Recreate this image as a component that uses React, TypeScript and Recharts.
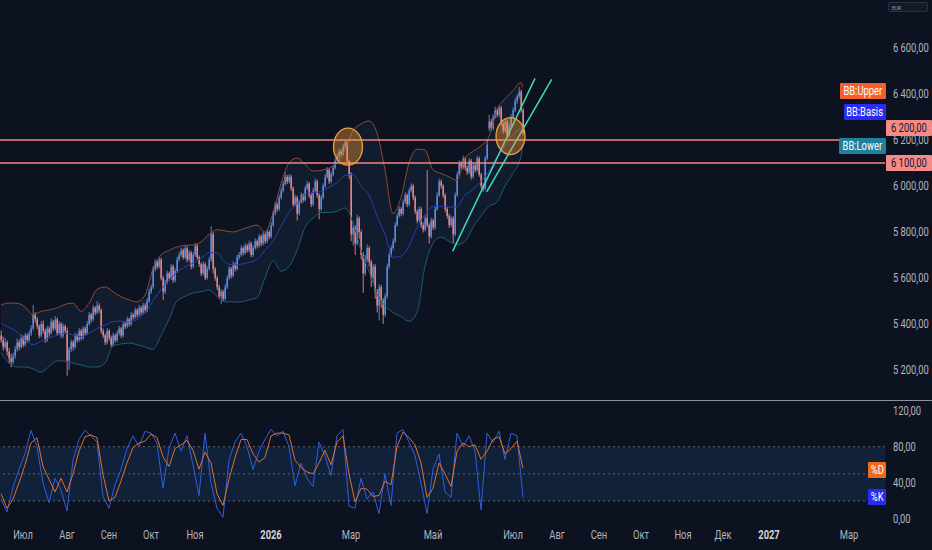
import React from 'react';
import {
  ComposedChart,
  Bar,
  Line,
  Area,
  XAxis,
  YAxis,
  ReferenceLine,
  ReferenceDot,
  ReferenceArea,
} from 'recharts';

// daily candles [open, high, low, close], one list per month
const jun25 = [
  [5350, 5372, 5318, 5330], [5330, 5345, 5285, 5300], [5300, 5338, 5290, 5320], [5320, 5328, 5262, 5280],
  [5280, 5295, 5228, 5250], [5250, 5270, 5212, 5235], [5235, 5275, 5225, 5260], [5260, 5305, 5248, 5290],
  [5290, 5338, 5280, 5320], [5320, 5332, 5285, 5300], [5300, 5355, 5292, 5340],
];
const jul25 = [
  [5340, 5350, 5298, 5310], [5310, 5362, 5302, 5350], [5350, 5358, 5318, 5330], [5330, 5372, 5322, 5360],
  [5360, 5395, 5348, 5380], [5380, 5483, 5372, 5440], [5440, 5452, 5405, 5420], [5420, 5430, 5378, 5390],
  [5390, 5398, 5338, 5350], [5350, 5412, 5342, 5400], [5400, 5415, 5358, 5370], [5370, 5380, 5318, 5330],
  [5330, 5392, 5322, 5380], [5380, 5390, 5345, 5360], [5360, 5425, 5352, 5410], [5410, 5418, 5368, 5380],
  [5380, 5435, 5372, 5420], [5420, 5428, 5348, 5360], [5360, 5412, 5352, 5400], [5400, 5408, 5338, 5350],
  [5350, 5402, 5340, 5390], [5390, 5398, 5358, 5370],
];
const aug25 = [
  [5370, 5385, 5175, 5240], [5240, 5300, 5200, 5290], [5290, 5332, 5278, 5320], [5320, 5330, 5285, 5300],
  [5300, 5362, 5292, 5350], [5350, 5358, 5318, 5330], [5330, 5382, 5322, 5370], [5370, 5378, 5328, 5340],
  [5340, 5392, 5332, 5380], [5380, 5388, 5348, 5360], [5360, 5412, 5352, 5400], [5400, 5452, 5392, 5440],
  [5440, 5448, 5405, 5420], [5420, 5482, 5412, 5470], [5470, 5478, 5438, 5450], [5450, 5500, 5442, 5480],
  [5480, 5490, 5448, 5460], [5460, 5468, 5358, 5370], [5370, 5380, 5338, 5350], [5350, 5358, 5308, 5320],
  [5320, 5382, 5312, 5370],
];
const sep25 = [
  [5370, 5378, 5328, 5340], [5340, 5350, 5298, 5310], [5310, 5362, 5302, 5350], [5350, 5358, 5318, 5330],
  [5330, 5372, 5322, 5360], [5360, 5392, 5350, 5380], [5380, 5388, 5338, 5350], [5350, 5412, 5342, 5400],
  [5400, 5410, 5378, 5390], [5390, 5432, 5382, 5420], [5420, 5428, 5388, 5400], [5400, 5452, 5392, 5440],
  [5440, 5448, 5418, 5430], [5430, 5472, 5422, 5460], [5460, 5468, 5428, 5440], [5440, 5482, 5432, 5470],
  [5470, 5478, 5438, 5450], [5450, 5492, 5442, 5480], [5480, 5490, 5448, 5460], [5460, 5512, 5452, 5500],
  [5500, 5552, 5492, 5540],
];
const oct25 = [
  [5540, 5572, 5530, 5560], [5560, 5652, 5552, 5640], [5640, 5682, 5628, 5670], [5670, 5678, 5638, 5650],
  [5650, 5692, 5642, 5680], [5680, 5688, 5590, 5600], [5600, 5610, 5505, 5540], [5540, 5592, 5530, 5580],
  [5580, 5632, 5572, 5620], [5620, 5628, 5588, 5600], [5600, 5662, 5592, 5650], [5650, 5658, 5578, 5590],
  [5590, 5642, 5582, 5630], [5630, 5692, 5622, 5680], [5680, 5712, 5672, 5700], [5700, 5732, 5692, 5720],
  [5720, 5728, 5680, 5690], [5690, 5742, 5682, 5730], [5730, 5738, 5668, 5680], [5680, 5722, 5672, 5710],
  [5710, 5718, 5638, 5650], [5650, 5712, 5642, 5700],
];
const nov25 = [
  [5700, 5752, 5692, 5740], [5740, 5748, 5680, 5690], [5690, 5698, 5648, 5660], [5660, 5668, 5608, 5620],
  [5620, 5672, 5612, 5660], [5660, 5668, 5590, 5600], [5600, 5652, 5592, 5640], [5640, 5692, 5632, 5680],
  [5680, 5825, 5670, 5790], [5790, 5800, 5620, 5640], [5640, 5648, 5588, 5600], [5600, 5610, 5548, 5560],
  [5560, 5570, 5508, 5520], [5520, 5552, 5485, 5540], [5540, 5548, 5498, 5510], [5510, 5572, 5502, 5560],
  [5560, 5612, 5552, 5600], [5600, 5652, 5592, 5640], [5640, 5648, 5598, 5610],
];
const dec25 = [
  [5610, 5672, 5602, 5660], [5660, 5668, 5628, 5640], [5640, 5702, 5632, 5690], [5690, 5712, 5680, 5700],
  [5700, 5742, 5692, 5730], [5730, 5738, 5698, 5710], [5710, 5752, 5702, 5740], [5740, 5748, 5710, 5720],
  [5720, 5762, 5712, 5750], [5750, 5758, 5690, 5700], [5700, 5742, 5692, 5730], [5730, 5772, 5722, 5760],
  [5760, 5768, 5728, 5740], [5740, 5792, 5732, 5780], [5780, 5788, 5738, 5750], [5750, 5802, 5742, 5790],
  [5790, 5798, 5748, 5760], [5760, 5812, 5752, 5800], [5800, 5808, 5768, 5780],
];
const jan26 = [
  [5780, 5842, 5772, 5830], [5830, 5892, 5822, 5880], [5880, 5932, 5872, 5920], [5920, 5928, 5888, 5900],
  [5900, 5962, 5892, 5950], [5950, 5992, 5942, 5980], [5980, 6022, 5972, 6010], [6010, 6060, 6002, 6040],
  [6040, 6048, 6008, 6020], [6020, 6052, 6012, 6040], [6040, 6048, 5978, 5990], [5990, 5998, 5910, 5920],
  [5920, 5962, 5912, 5950], [5950, 5958, 5850, 5880], [5880, 5942, 5872, 5930], [5930, 5972, 5922, 5960],
  [5960, 5968, 5928, 5940], [5940, 6002, 5932, 5990], [5990, 6022, 5982, 6010], [6010, 6018, 5948, 5960],
];
const feb26 = [
  [5960, 5968, 5908, 5920], [5920, 5992, 5912, 5980], [5980, 6032, 5972, 6020], [6020, 6028, 5948, 5960],
  [5960, 5968, 5855, 5900], [5900, 5962, 5892, 5950], [5950, 6012, 5942, 6000], [6000, 6052, 5992, 6040],
  [6040, 6082, 6032, 6070], [6070, 6078, 6008, 6020], [6020, 6062, 6012, 6050], [6050, 6092, 6042, 6080],
  [6080, 6122, 6072, 6110], [6110, 6142, 6102, 6130], [6130, 6162, 6122, 6150], [6150, 6158, 6128, 6140],
  [6140, 6182, 6132, 6170], [6170, 6200, 6162, 6190], [6190, 6195, 6100, 6110], [6110, 6115, 6030, 6050],
];
const mar26 = [
  [6050, 6060, 5760, 5790], [5790, 5845, 5740, 5820], [5820, 5830, 5700, 5750], [5750, 5875, 5742, 5860],
  [5860, 5868, 5770, 5800], [5800, 5810, 5680, 5700], [5700, 5712, 5535, 5620], [5620, 5700, 5610, 5680],
  [5680, 5745, 5668, 5730], [5730, 5740, 5650, 5670], [5670, 5680, 5560, 5600], [5600, 5662, 5580, 5650],
  [5650, 5660, 5510, 5540], [5540, 5552, 5450, 5480], [5480, 5572, 5415, 5560], [5560, 5570, 5470, 5500],
  [5500, 5512, 5400, 5440], [5440, 5532, 5430, 5520], [5520, 5662, 5510, 5650], [5650, 5712, 5640, 5700],
  [5700, 5742, 5690, 5730],
];
const apr26 = [
  [5730, 5772, 5720, 5760], [5760, 5842, 5752, 5830], [5830, 5882, 5822, 5870], [5870, 5912, 5862, 5900],
  [5900, 5908, 5868, 5880], [5880, 5942, 5872, 5930], [5930, 5972, 5922, 5960], [5960, 5968, 5908, 5920],
  [5920, 5992, 5912, 5980], [5980, 6012, 5972, 6000], [6000, 6008, 5938, 5950], [5950, 5958, 5878, 5890],
  [5890, 5898, 5838, 5850], [5850, 5912, 5842, 5900], [5900, 5908, 5818, 5830], [5830, 5842, 5798, 5810],
  [5810, 5872, 5802, 5860], [5860, 6070, 5820, 5830], [5830, 5838, 5750, 5780], [5780, 5862, 5772, 5850],
];
const may26 = [
  [5850, 5858, 5808, 5820], [5820, 5912, 5812, 5900], [5900, 5972, 5892, 5960], [5960, 6032, 5952, 6020],
  [6020, 6028, 5988, 6000], [6000, 6008, 5948, 5960], [5960, 5968, 5888, 5900], [5900, 5910, 5858, 5870],
  [5870, 5880, 5818, 5830], [5830, 5872, 5822, 5860], [5860, 5868, 5750, 5790], [5790, 5972, 5782, 5960],
  [5960, 6062, 5952, 6050], [6050, 6112, 6042, 6100], [6100, 6108, 6068, 6080], [6080, 6132, 6072, 6120],
  [6120, 6128, 6068, 6080], [6080, 6090, 6048, 6060], [6060, 6122, 6052, 6110], [6110, 6118, 6028, 6040],
];
const jun26 = [
  [6040, 6102, 6032, 6090], [6090, 6098, 6058, 6070], [6070, 6132, 6062, 6120], [6120, 6128, 6040, 6050],
  [6050, 6058, 5990, 6000], [6000, 6012, 5975, 5990], [5990, 6132, 5982, 6120], [6120, 6200, 6112, 6180],
  [6250, 6310, 6238, 6280], [6280, 6292, 6240, 6250], [6250, 6312, 6242, 6300], [6300, 6345, 6292, 6330],
  [6330, 6338, 6298, 6310], [6310, 6352, 6302, 6340], [6340, 6348, 6260, 6270], [6270, 6280, 6228, 6240],
  [6240, 6292, 6232, 6280], [6280, 6288, 6210, 6220], [6220, 6272, 6212, 6260], [6260, 6312, 6252, 6300],
];
const jul26 = [
  [6300, 6342, 6292, 6330], [6330, 6382, 6322, 6370], [6370, 6400, 6358, 6390], [6390, 6430, 6380, 6410],
  [6410, 6418, 6320, 6330], [6330, 6340, 6220, 6230],
];

const candleMonths = [jun25, jul25, aug25, sep25, oct25, nov25, dec25, jan26, feb26, mar26, apr26, may26, jun26, jul26];

// Bollinger bands, read every 4th bar
const bbUpper = [
  5483, 5491, 5490, 5474, 5440, 5455, 5461, 5470, 5485, 5491, 5455, 5490, 5550, 5561, 5540, 5518, 5505,
  5496, 5525, 5640, 5700, 5720, 5735, 5742, 5744, 5757, 5790, 5810, 5805, 5800, 5810, 5822, 5830, 5800,
  5883, 6010, 6100, 6122, 6095, 6065, 6068, 6078, 6100, 6160, 6240, 6270, 6283, 6230, 6070, 5880, 5950,
  6100, 6160, 6157, 6070, 6055, 6040, 6025, 6120, 6150, 6175, 6215, 6330, 6380, 6415, 6450, 6430,
];
const bbBasis = [
  5404, 5385, 5365, 5328, 5310, 5325, 5340, 5350, 5360, 5352, 5345, 5360, 5380, 5395, 5410, 5413, 5408,
  5420, 5450, 5500, 5550, 5590, 5625, 5648, 5665, 5685, 5710, 5710, 5668, 5657, 5660, 5668, 5680, 5720,
  5760, 5825, 5885, 5925, 5962, 5972, 5975, 5995, 6015, 6045, 6050, 6000, 5960, 5870, 5790, 5690, 5695,
  5740, 5820, 5875, 5910, 5912, 5908, 5910, 5960, 5985, 6020, 6065, 6125, 6175, 6222, 6252, 6258,
];
const bbLower = [
  5274, 5230, 5213, 5213, 5205, 5190, 5215, 5240, 5238, 5230, 5222, 5213, 5213, 5230, 5305, 5313, 5317,
  5310, 5300, 5290, 5350, 5420, 5500, 5520, 5535, 5540, 5548, 5520, 5496, 5496, 5496, 5505, 5515, 5600,
  5675, 5630, 5650, 5720, 5820, 5860, 5885, 5885, 5890, 5905, 5840, 5720, 5630, 5530, 5480, 5450, 5432,
  5412, 5450, 5650, 5750, 5778, 5760, 5745, 5760, 5820, 5870, 5912, 5930, 6000, 6055, 6130, 6180,
];

// stochastic, read every 3rd bar
const stochK = [
  22, 8, 35, 55, 72, 98, 80, 40, 18, 45, 32, 9, 65, 88, 98, 92, 85, 25, 12, 38, 55, 78, 92, 80, 97, 95,
  84, 34, 78, 95, 75, 92, 60, 26, 95, 40, 12, 2, 65, 85, 95, 80, 55, 75, 88, 99, 92, 97, 80, 37, 62, 45,
  36, 85, 70, 48, 92, 99, 14, 12, 45, 22, 30, 6, 50, 15, 95, 99, 85, 70, 40, 6, 55, 72, 30, 24, 95, 80,
  92, 75, 10, 95, 85, 97, 66, 95, 92, 24,
];
const stochD = [
  28, 12, 22, 40, 60, 84, 90, 58, 44, 30, 45, 30, 50, 75, 91, 93, 90, 49, 20, 24, 42, 62, 79, 84, 86, 94,
  90, 69, 58, 78, 82, 87, 76, 55, 74, 62, 28, 15, 44, 68, 88, 88, 72, 63, 68, 92, 95, 95, 93, 65, 57, 52,
  50, 62, 76, 60, 85, 92, 50, 19, 34, 33, 25, 26, 42, 38, 80, 96, 90, 82, 62, 24, 34, 62, 50, 36, 75, 84,
  80, 82, 66, 75, 88, 91, 72, 78, 86, 56,
];

// trading days per month on the time scale, and the labels shown
const monthBars = [11, 22, 21, 21, 22, 19, 19, 20, 20, 21, 20, 20, 20, 22, 21, 21, 21, 20, 23, 20, 20, 21];
const monthLabels = ['', 'Июл', 'Авг', 'Сен', 'Окт', 'Ноя', '', '2026', '', 'Мар', '', 'Май', '', 'Июл', 'Авг', 'Сен', 'Окт', 'Ноя', 'Дек', '2027', '', 'Мар'];

const priceTicks = [5200, 5400, 5600, 5800, 6000, 6200, 6400, 6600];
const stochTicks = [0, 40, 80, 120];
const levels = [6200, 6100];
const trendLines = [
  { x1: 225.85, y1: 5717, x2: 267, y2: 6468 },
  { x1: 242.85, y1: 5975, x2: 275.35, y2: 6464 },
];
const highlights = [
  { i: 173.5, price: 6171 },
  { i: 254.75, price: 6217 },
];

const W = 932;
const PRICE_H = 401;
const STOCH_H = 149;
const AXIS_W = 47;
const X_DOMAIN: [number, number] = [-0.5, 442];
const BG = '#0c1220';
const UP = '#5f8de6';
const DOWN = '#ef8585';
const AXIS_TEXT = '#b2b5be';
const FONT = 'Roboto, sans-serif';
const SQUEEZE = 0.78; // the reference uses a narrow face

const lastIdx = candleMonths.reduce((n, m) => n + m.length, 0) - 1;
const priceRows: any[] = candleMonths.flat().map(([o, h, l, c], i) => ({ i, o, h, l, c }));
bbUpper.forEach((u, k) => {
  const row = priceRows[Math.min(k * 4, lastIdx)];
  row.upper = u;
  row.basis = bbBasis[k];
  row.lower = bbLower[k];
});
const stochRows = stochK.map((k, n) => ({ i: n * 3, k, d: stochD[n] }));

const monthStarts: number[] = [];
monthBars.reduce((acc, n) => {
  monthStarts.push(acc);
  return acc + n;
}, 0);
const axisTicks = monthStarts
  .map((i, n) => ({ i, label: monthLabels[n] }))
  .filter((t) => t.label);

const fmtPrice = (v: number) => `${Math.floor(v / 1000)}\u00a0${String(v % 1000).padStart(3, '0')},00`;
const fmtStoch = (v: number) => `${v},00`;

const Candle = (props: any) => {
  const { x, y, width, height, payload } = props;
  if (!payload) return null;
  const { o, h, l, c } = payload;
  const top = Math.min(y, y + height);
  const bottom = Math.max(y, y + height);
  const span = h - l || 1;
  const toY = (v: number) => top + ((h - v) / span) * (bottom - top);
  const cx = x + width / 2;
  const color = c >= o ? UP : DOWN;
  const bTop = toY(Math.max(o, c));
  const bH = Math.max(toY(Math.min(o, c)) - bTop, 0.8);
  return (
    <g>
      <line x1={cx} x2={cx} y1={top} y2={bottom} stroke={color} strokeWidth={0.9} />
      <rect x={cx - 0.75} y={bTop} width={1.5} height={bH} fill={color} />
    </g>
  );
};

const ValueTick = (props: any) => {
  const { x, y, payload, fmt } = props;
  return (
    <text
      transform={`translate(${x},${y}) scale(${SQUEEZE},1)`}
      dy="0.35em"
      textAnchor="start"
      fill={AXIS_TEXT}
      fontSize={12}
      fontFamily={FONT}
    >
      {fmt(payload.value)}
    </text>
  );
};

const MonthTick = (props: any) => {
  const { x, y, payload } = props;
  const t = axisTicks.find((a) => a.i === payload.value);
  const label = t ? t.label : '';
  const isYear = /^\d{4}$/.test(label);
  return (
    <text
      transform={`translate(${x},${y + 5}) scale(${SQUEEZE},1)`}
      textAnchor="middle"
      fill={isYear ? '#d1d4dc' : AXIS_TEXT}
      fontSize={12}
      fontWeight={isYear ? 700 : 400}
      fontFamily={FONT}
    >
      {label}
    </text>
  );
};

const Tag = ({ top, left, width, text, bg, color = '#fff' }: any) => (
  <div
    style={{
      position: 'absolute',
      top,
      left,
      width,
      height: 16,
      background: bg,
      display: 'flex',
      alignItems: 'center',
      justifyContent: 'center',
      overflow: 'hidden',
      borderRadius: 1,
    }}
  >
    <span
      style={{
        display: 'inline-block',
        transform: `scaleX(${SQUEEZE})`,
        color,
        fontFamily: FONT,
        fontSize: 12,
        whiteSpace: 'nowrap',
        lineHeight: '16px',
      }}
    >
      {text}
    </span>
  </div>
);

export default function App() {
  return (
    <div style={{ position: 'absolute', top: 0, left: 0, width: W, height: 550, background: BG, overflow: 'hidden' }}>
      <div style={{ position: 'absolute', top: 0, left: 0 }}>
        <ComposedChart width={W} height={PRICE_H} data={priceRows} margin={{ top: 0, right: 0, bottom: 0, left: 0 }}>
          <XAxis dataKey="i" type="number" domain={X_DOMAIN} allowDataOverflow hide />
          <YAxis
            orientation="right"
            width={AXIS_W}
            domain={[5065, 6809]}
            allowDataOverflow
            ticks={priceTicks}
            interval={0}
            axisLine={false}
            tickLine={false}
            tick={<ValueTick fmt={fmtPrice} />}
          />
          <Area
            dataKey={(d: any) => (d.upper != null ? [d.lower, d.upper] : null)}
            type="monotone"
            connectNulls
            stroke="none"
            fill="#111c2e"
            fillOpacity={1}
            dot={false}
            activeDot={false}
            isAnimationActive={false}
          />
          <Line dataKey="upper" type="monotone" connectNulls stroke="#8a4b31" strokeWidth={1} dot={false} activeDot={false} isAnimationActive={false} />
          <Line dataKey="basis" type="monotone" connectNulls stroke="#2b3cb0" strokeWidth={1} dot={false} activeDot={false} isAnimationActive={false} />
          <Line dataKey="lower" type="monotone" connectNulls stroke="#1d5c6a" strokeWidth={1} dot={false} activeDot={false} isAnimationActive={false} />
          <Bar dataKey={(d: any) => [d.l, d.h]} shape={Candle} isAnimationActive={false} />
          {levels.map((v) => (
            <ReferenceLine key={v} y={v} stroke="#f4857e" strokeWidth={1.6} />
          ))}
          {trendLines.map((t, n) => (
            <ReferenceLine
              key={n}
              segment={[{ x: t.x1, y: t.y1 }, { x: t.x2, y: t.y2 }]}
              stroke="#3fdcbc"
              strokeWidth={1.5}
            />
          ))}
          {highlights.map((h, n) => (
            <ReferenceDot
              key={n}
              x={h.i}
              y={h.price}
              r={15}
              shape={(p: any) => (
                <ellipse cx={p.cx} cy={p.cy} rx={14.5} ry={18.5} fill="#f59a32" fillOpacity={0.4} stroke="#f0a040" strokeWidth={1.3} />
              )}
            />
          ))}
        </ComposedChart>
      </div>

      <div style={{ position: 'absolute', top: 400, left: 0, width: W, height: 1, background: '#8e9199' }} />

      <div style={{ position: 'absolute', top: 401, left: 0 }}>
        <ComposedChart width={W} height={STOCH_H} data={stochRows} margin={{ top: 1, right: 0, bottom: 0, left: 0 }}>
          <XAxis
            dataKey="i"
            type="number"
            domain={X_DOMAIN}
            allowDataOverflow
            ticks={axisTicks.map((t) => t.i)}
            interval={0}
            axisLine={false}
            tickLine={false}
            height={24}
            tick={<MonthTick />}
          />
          <YAxis
            orientation="right"
            width={AXIS_W}
            domain={[-7.7, 129.4]}
            allowDataOverflow
            ticks={stochTicks}
            interval={0}
            axisLine={false}
            tickLine={false}
            tick={<ValueTick fmt={fmtStoch} />}
          />
          <ReferenceArea y1={20} y2={80} fill="#11213a" fillOpacity={1} stroke="none" />
          {[80, 50, 20].map((v) => (
            <ReferenceLine key={v} y={v} stroke="#5d6270" strokeDasharray="2 3" />
          ))}
          <Line dataKey="k" stroke="#2f5fe0" strokeWidth={1} dot={false} activeDot={false} isAnimationActive={false} />
          <Line dataKey="d" stroke="#e0702a" strokeWidth={1} dot={false} activeDot={false} isAnimationActive={false} />
        </ComposedChart>
      </div>

      <Tag top={83} left={840} width={46} text="BB:Upper" bg="#f55f2c" />
      <Tag top={104} left={844} width={42} text="BB:Basis" bg="#2a2cf2" />
      <Tag top={138} left={839} width={47} text="BB:Lower" bg="#227f99" />
      <Tag top={120} left={886} width={46} text={fmtPrice(6200)} bg="#f48a8a" color="#131722" />
      <Tag top={155} left={886} width={46} text={fmtPrice(6100)} bg="#f48a8a" color="#131722" />
      <Tag top={462} left={868} width={18} text="%D" bg="#f06a1e" />
      <Tag top={489} left={868} width={18} text="%K" bg="#2b2bf0" />

      <div
        style={{
          position: 'absolute',
          top: 2,
          left: 888,
          width: 40,
          height: 10,
          border: '1px solid #2a3140',
          background: '#131b28',
          borderRadius: 2,
          color: '#9aa0aa',
          fontFamily: FONT,
          fontSize: 5,
          lineHeight: '10px',
          paddingLeft: 3,
          boxSizing: 'border-box',
        }}
      >
        EUR
      </div>
    </div>
  );
}
